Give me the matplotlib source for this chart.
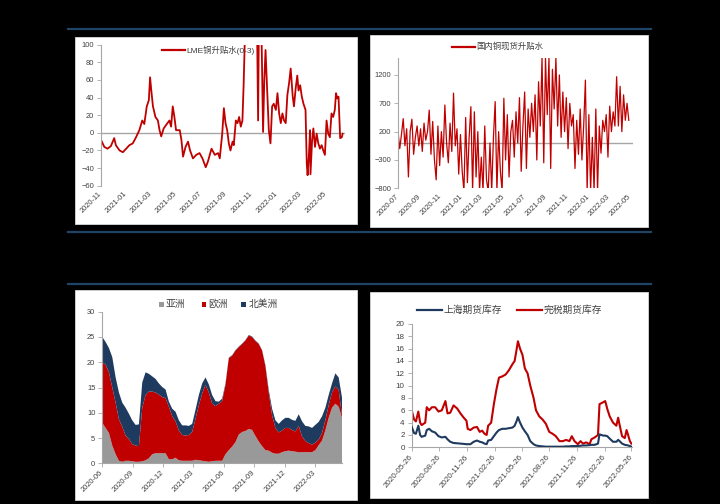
import pandas as pd
import matplotlib
matplotlib.use('Agg')
import matplotlib.pyplot as plt
from matplotlib.patches import Rectangle
from matplotlib.lines import Line2D

plt.rcParams['font.family'] = ['Liberation Sans', 'Noto Sans CJK SC', 'DejaVu Sans']

W, H = 720, 504
RED = '#c00000'
NAVY = '#1f3a5f'
GREY = '#a6a6a6'
TXT = '#404040'

# --- LME铜升贴水(0-3) ---
lme_dates = ['2020-11-01', '2020-11-09', '2020-11-17', '2020-11-25', '2020-12-03', '2020-12-07',
             '2020-12-16', '2020-12-24', '2021-01-01', '2021-01-09', '2021-01-17', '2021-01-25',
             '2021-02-02', '2021-02-09', '2021-02-14', '2021-02-20', '2021-02-25', '2021-02-28',
             '2021-03-03', '2021-03-07', '2021-03-13', '2021-03-19', '2021-03-23', '2021-03-27',
             '2021-04-02', '2021-04-08', '2021-04-16', '2021-04-20', '2021-04-24', '2021-04-28',
             '2021-05-02', '2021-05-11', '2021-05-15', '2021-05-19', '2021-05-25', '2021-05-31',
             '2021-06-05', '2021-06-12', '2021-06-20', '2021-06-28', '2021-07-05', '2021-07-13',
             '2021-07-18', '2021-07-27', '2021-08-04', '2021-08-12', '2021-08-16', '2021-08-22',
             '2021-08-26', '2021-08-30', '2021-09-03', '2021-09-07', '2021-09-11', '2021-09-16',
             '2021-09-19', '2021-09-24', '2021-09-28', '2021-10-02', '2021-10-06', '2021-10-10',
             '2021-10-13', '2021-10-16', '2021-10-24', '2021-11-01', '2021-11-09', '2021-11-14',
             '2021-11-17', '2021-11-19', '2021-11-25', '2021-11-29', '2021-12-02', '2021-12-05',
             '2021-12-09', '2021-12-13', '2021-12-17', '2021-12-21', '2021-12-25', '2021-12-30',
             '2022-01-03', '2022-01-07', '2022-01-11', '2022-01-15', '2022-01-19', '2022-01-23',
             '2022-01-27', '2022-01-31', '2022-02-04', '2022-02-09', '2022-02-12', '2022-02-16',
             '2022-02-20', '2022-02-23', '2022-02-27', '2022-03-03', '2022-03-07', '2022-03-12',
             '2022-03-15', '2022-03-17', '2022-03-20', '2022-03-23', '2022-03-24', '2022-03-28',
             '2022-03-31', '2022-04-04', '2022-04-08', '2022-04-12', '2022-04-16', '2022-04-20',
             '2022-04-24', '2022-04-28', '2022-05-02', '2022-05-06', '2022-05-10', '2022-05-14',
             '2022-05-18', '2022-05-22', '2022-05-25', '2022-05-28', '2022-05-31', '2022-06-04',
             '2022-06-08', '2022-06-10']
lme_values = [-8, -16, -18, -15, -6, -14,
              -20, -22, -18, -14, -12, -5,
              3, 14, 10, 30, 37, 63,
              48, 30, 18, 14, 3, -4,
              5, 9, 14, 7, 30, 18,
              3, 3, -8, -27, -16, -10,
              -20, -29, -25, -23, -29, -39,
              -33, -18, -25, -23, -29, -1,
              28, 11, 3, -12, -20, -10,
              -14, 14, 11, 18, 7, 14,
              56, 110, 160, 180, 150, 140,
              14, 130, 120, 1, 60, 94,
              48, 3, -12, 30, 33, 26,
              45, 22, 11, 22, 14, 11,
              43, 56, 73, 41, 30, 50,
              65, 48, 54, 41, 33, 26,
              -35, -48, -27, 3, -47, -8,
              5, -16, -1, -12, -18, -14,
              -20, -25, 14, -1, -5, 22,
              18, 26, 45, 39, 41, -6,
              -5, -1]
lme_ticks = ['2020-11', '2021-01', '2021-03', '2021-05', '2021-07', '2021-09',
             '2021-11', '2022-01', '2022-03', '2022-05']

# --- 国内铜现货升贴水 (one reading every 5 days from 2020-07-01) ---
spot_start = '2020-07-01'
spot_values = [200, -100, 150, 430, -50, 250,
               -600, 200, 420, -200, 100, 300,
               -50, 250, -150, 350, 50, 200,
               580, -200, 380, -300, -650, 300,
               -400, 200, -250, 670, 0, -350,
               350, -150, 880, -50, 250, -550,
               150, -500, -850, 450, -700, 100,
               640, -850, 550, -600, 200, -850,
               -250, -850, 300, -650, -850, 0,
               -850, 100, 730, -850, 200, -500,
               -850, 790, -300, 500, -600, 200,
               400, -250, 550, 0, 800, -500,
               300, 900, -450, 600, 100, 700,
               200, 850, -300, 1080, 300, 1500,
               -350, 1500, 500, 1500, -450, 1300,
               600, 1500, 300, 1200, 100, 900,
               200, 800, -100, 700, 300, 500,
               -450, 400, -200, 600, -300, 300,
               1110, -850, 500, -850, 100, -850,
               600, -850, 300, -180, 400, 200,
               500, -250, 650, 200, 550, 300,
               1170, 300, 1000, 200, 850, 400,
               700, 400]
spot_ticks = ['2020-07', '2020-09', '2020-11', '2021-01', '2021-03', '2021-05',
              '2021-07', '2021-09', '2021-11', '2022-01', '2022-03', '2022-05']

# --- LME库存分地区 (one reading every 10 days from 2020-06-01) ---
stock_start = '2020-06-01'
asia = [8, 7, 6, 3.5, 1.8, 0.5, 0.3, 0.5, 0.5, 0.4, 0.3, 0.3, 0.4, 0.6, 1.0, 1.8, 2.0, 2.0, 2.0,
        2.0, 0.8, 0.8, 1.1, 0.6, 0.5, 0.5, 0.5, 0.5, 0.7, 0.6, 0.5, 0.4, 0.3, 0.4, 0.5, 0.5, 0.5,
        1.8, 2.6, 3.3, 4.2, 5.7, 6.2, 6.4, 6.8, 6.6, 5.4, 4.3, 3.4, 2.6, 2.5, 2.1, 1.9, 1.9, 2.2,
        2.4, 2.5, 2.4, 2.3, 2.2, 2.2, 2.2, 2.2, 2.2, 2.6, 3.6, 4.5, 6.5, 9.0, 11.0, 11.8, 11.2, 9.0]
europe = [12, 12.5, 12, 11.5, 10.2, 8.2, 6.9, 5.0, 4.3, 3.4, 3.2, 3.1, 10.6, 12.9, 13.2, 12.4,
          12.0, 11.6, 11.1, 10.9, 10.4, 8.5, 7.2, 5.9, 5.1, 5.0, 5.1, 5.7, 8.1, 10.9, 13.3, 15.1,
          13.7, 11.4, 10.8, 11.3, 11.8, 13.7, 18.2, 18.0, 18.1, 17.3, 17.4, 17.9, 18.5, 18.4,
          18.8, 19.3, 18.9, 16.6, 11.5, 7.4, 5.1, 4.2, 4.3, 4.6, 4.5, 4.2, 4.0, 5.2, 3.1, 2.2,
          1.8, 1.5, 1.5, 1.1, 1.5, 2.0, 2.5, 3.0, 3.4, 3.3, 0.5]
north_america = [5, 4.5, 4.8, 6, 5, 5.3, 4.8, 5.5, 5, 4.7, 4.1, 4.3, 5, 4.5, 3.5, 3, 2.7, 2.2,
                 2, 1.7, 1, 1.5, 1.9, 2, 1.9, 2, 1.8, 1.6, 1.8, 2, 2, 1.5, 1.6, 1.7, 1, 0.4,
                 0.5, 0.3, 0.1, 0.1, 0.1, 0.1, 0.1, 0.1, 0.1, 0.1, 0.1, 0.1, 0.1, 0.2, 0.5,
                 1.3, 1.5, 1.7, 2, 2, 2, 2, 2.1, 2.3, 3, 3, 3.3, 3.3, 3.5, 3.5, 3.3, 2.5, 2,
                 1.8, 2.6, 2.5, 3.5]
stock_labels = ['亚洲', '欧洲', '北美洲']
stock_ticks = ['2020-06', '2020-09', '2020-12', '2021-03', '2021-06', '2021-09',
               '2021-12', '2022-03']

# --- 上海期货库存 / 完税期货库存 ---
inv_dates = ['2020-05-26', '2020-06-03', '2020-06-09', '2020-06-17', '2020-06-23', '2020-06-28',
             '2020-07-10', '2020-07-15', '2020-07-23', '2020-08-01', '2020-08-12', '2020-08-23',
             '2020-09-03', '2020-09-15', '2020-09-22', '2020-10-01', '2020-10-12', '2020-10-24',
             '2020-11-04', '2020-11-15', '2020-11-24', '2020-11-28', '2020-12-07', '2020-12-18',
             '2020-12-29', '2021-01-07', '2021-01-15', '2021-01-23', '2021-01-30', '2021-02-04',
             '2021-02-14', '2021-02-23', '2021-03-04', '2021-03-12', '2021-03-23', '2021-04-03',
             '2021-04-14', '2021-04-26', '2021-05-03', '2021-05-10', '2021-05-14', '2021-05-21',
             '2021-05-29', '2021-06-06', '2021-06-15', '2021-06-24', '2021-07-05', '2021-07-13',
             '2021-07-24', '2021-08-04', '2021-08-15', '2021-08-26', '2021-09-06', '2021-09-17',
             '2021-09-29', '2021-10-10', '2021-10-21', '2021-11-01', '2021-11-09', '2021-11-18',
             '2021-11-29', '2021-12-08', '2021-12-16', '2021-12-27', '2022-01-07', '2022-01-13',
             '2022-01-24', '2022-02-04', '2022-02-09', '2022-02-21', '2022-02-28', '2022-03-07',
             '2022-03-15', '2022-03-26', '2022-04-06', '2022-04-12', '2022-04-17', '2022-04-25',
             '2022-05-04', '2022-05-10', '2022-05-15', '2022-05-21', '2022-05-26']
bonded = [6.0, 4.5, 4.2, 5.8, 4.0, 3.6, 4.0, 6.5, 6.0, 6.5, 6.5, 5.8,
          6.0, 7.5, 5.5, 5.6, 6.8, 6.3, 5.5, 4.8, 4.3, 3.0, 2.8, 3.2,
          3.3, 2.5, 2.7, 2.2, 2.0, 3.5, 4.0, 7.0, 9.5, 11.3, 11.5, 11.8,
          12.5, 13.5, 14.0, 16.0, 17.2, 16.0, 15.0, 12.8, 12.0, 10.0, 8.0, 6.0,
          5.0, 4.5, 3.8, 2.5, 2.2, 1.8, 1.0, 1.0, 1.2, 1.0, 1.8, 1.0,
          0.5, 1.0, 0.6, 0.8, 0.5, 1.3, 1.6, 2.0, 7.0, 7.3, 7.5, 6.2,
          5.0, 4.0, 3.5, 4.8, 3.6, 1.8, 1.5, 2.8, 2.0, 1.0, 0.6]
shanghai = [3.3, 2.3, 2.2, 3.5, 2.0, 1.7, 1.9, 2.8, 3.0, 2.6, 2.4, 1.8,
            1.6, 1.7, 1.3, 0.9, 0.7, 0.65, 0.6, 0.55, 0.5, 0.5, 0.5, 0.9,
            1.1, 0.9, 0.8, 0.6, 0.5, 1.1, 1.2, 1.8, 2.4, 2.8, 3.0, 3.0,
            3.1, 3.2, 3.5, 4.3, 4.9, 4.0, 3.2, 2.6, 2.0, 1.0, 0.5, 0.3,
            0.2, 0.15, 0.1, 0.1, 0.1, 0.1, 0.1, 0.1, 0.15, 0.15, 0.2, 0.2,
            0.2, 0.25, 0.3, 0.3, 0.35, 0.4, 0.4, 0.6, 2.1, 1.9, 1.9, 1.8,
            1.4, 0.9, 0.9, 1.2, 1.0, 0.6, 0.4, 0.35, 0.3, 0.2, 0.1]
inv_labels = ['上海期货库存', '完税期货库存']
inv_ticks = ['2020-05-26', '2020-08-26', '2020-11-26', '2021-02-26', '2021-05-26',
             '2021-08-26', '2021-11-26', '2022-02-26', '2022-05-26']


def fx(x):
    return x / W


def fy(y):
    return 1 - y / H


def add_axes_px(fig, left, top, right, bottom):
    ax = fig.add_axes([fx(left), fy(bottom), (right - left) / W, (bottom - top) / H])
    ax.set_facecolor('none')
    return ax


def panel(fig, left, top, right, bottom):
    fig.add_artist(Rectangle((fx(left), fy(bottom)), (right - left) / W, (bottom - top) / H,
                             transform=fig.transFigure, facecolor='white',
                             edgecolor='#d9d9d9', lw=0.6, zorder=-5))


def style_axes(ax, ticks, fmt_labels, fsize, bottom_axis=False, rot=45):
    for s in ['top', 'right']:
        ax.spines[s].set_visible(False)
    ax.spines['left'].set_color(GREY)
    ax.spines['left'].set_linewidth(0.8)
    if bottom_axis:
        ax.spines['bottom'].set_color(GREY)
        ax.spines['bottom'].set_linewidth(0.8)
        ax.tick_params(axis='x', length=3, width=0.6, color=GREY, pad=3)
    else:
        ax.spines['bottom'].set_visible(False)
        ax.tick_params(axis='x', length=0, pad=5)
    ax.tick_params(axis='y', length=3, width=0.6, color=GREY, pad=2,
                   labelsize=fsize, labelcolor=TXT)
    ax.set_xticks(pd.to_datetime(ticks))
    ax.set_xticklabels(fmt_labels, rotation=rot, ha='right', va='center',
                       rotation_mode='anchor', fontsize=fsize, color=TXT)


def legend_line(fig, x0, x1, y, color, label, fsize):
    fig.add_artist(Line2D([fx(x0), fx(x1)], [fy(y), fy(y)], transform=fig.transFigure,
                          color=color, lw=1.6))
    fig.text(fx(x1 + 1.5), fy(y), label, fontsize=fsize, color=TXT, va='center', ha='left')


fig = plt.figure(figsize=(7.2, 5.04), dpi=100, facecolor='black')

# dark blue separator lines
for yy in [29, 232, 284]:
    fig.add_artist(Line2D([fx(68), fx(651)], [fy(yy), fy(yy)], transform=fig.transFigure,
                          color='#1e4566', lw=1.6))

panel(fig, 75, 37, 357, 224)
panel(fig, 370, 35, 648, 227)
panel(fig, 75, 290, 357, 500)
panel(fig, 370, 292, 648, 498)

# ---- top left: LME spread ----
ax1 = add_axes_px(fig, 101, 44.7, 344.7, 185.7)
ax1.axhline(0, color=GREY, lw=1.0, zorder=1)
ax1.plot(pd.to_datetime(lme_dates), lme_values, color=RED, lw=1.3, zorder=2)
ax1.set_ylim(-60, 100)
ax1.set_yticks(range(-60, 101, 20))
ax1.set_xlim(pd.Timestamp('2020-11-01'), pd.Timestamp('2022-06-15'))
style_axes(ax1, lme_ticks, lme_ticks, 5.4)
legend_line(fig, 161.5, 185, 50, RED, 'LME铜升贴水(0-3)', 6.0)

# ---- top right: domestic spot spread ----
ax2 = add_axes_px(fig, 398, 58, 632.6, 188.3)
spot_dates = pd.date_range(spot_start, periods=len(spot_values), freq='5D')
ax2.axhline(0, color=GREY, lw=1.0, zorder=1)
ax2.plot(spot_dates, spot_values, color=RED, lw=0.9, zorder=2)
ax2.set_ylim(-800, 1500)
ax2.set_yticks([-800, -300, 200, 700, 1200])
ax2.set_xlim(pd.Timestamp('2020-07-01'), pd.Timestamp('2022-05-08'))
style_axes(ax2, spot_ticks, spot_ticks, 5.4)
legend_line(fig, 451.5, 475, 46.7, RED, '国内铜现货升贴水', 6.0)

# ---- bottom left: LME stocks by region ----
ax3 = add_axes_px(fig, 102.3, 311.7, 342, 463.3)
stock_dates = pd.date_range(stock_start, periods=len(asia), freq='10D')
ax3.stackplot(stock_dates, asia, europe, north_america,
              colors=['#999999', '#c00000', '#1f3a5f'], lw=0)
ax3.set_ylim(0, 30)
ax3.set_yticks(range(0, 31, 5))
ax3.set_xlim(stock_dates[0], stock_dates[-1])
style_axes(ax3, stock_ticks, stock_ticks, 5.4, bottom_axis=True)
for (x0, lab, col) in zip([159, 201.5, 241.5], stock_labels, ['#999999', '#c00000', '#1f3a5f']):
    fig.add_artist(Rectangle((fx(x0), fy(306.5)), 5 / W, 5 / H, transform=fig.transFigure,
                             facecolor=col, edgecolor='none'))
    fig.text(fx(x0 + 7), fy(304), lab, fontsize=7, color=TXT, va='center', ha='left')

# ---- bottom right: SHFE and bonded inventories ----
ax4 = add_axes_px(fig, 411.7, 324, 632, 447.3)
d4 = pd.to_datetime(inv_dates)
ax4.plot(d4, shanghai, color=NAVY, lw=1.5, zorder=3)
ax4.plot(d4, bonded, color=RED, lw=1.5, zorder=2)
ax4.set_ylim(0, 20)
ax4.set_yticks(range(0, 21, 2))
ax4.set_xlim(pd.Timestamp('2020-05-26'), pd.Timestamp('2022-05-28'))
style_axes(ax4, inv_ticks, inv_ticks, 5.8, bottom_axis=True, rot=50)
legend_line(fig, 417, 442, 310, NAVY, inv_labels[0], 7.0)
legend_line(fig, 517, 542, 310, RED, inv_labels[1], 7.0)

fig.savefig('out.png', dpi=100, facecolor='black')
